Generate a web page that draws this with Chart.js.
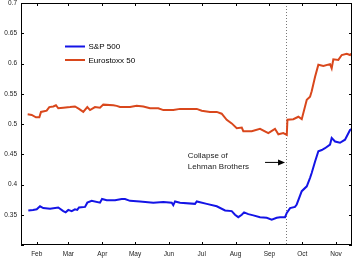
<!DOCTYPE html>
<html>
<head>
<meta charset="utf-8">
<script src="https://cdn.jsdelivr.net/npm/chart.js@4.4.0/dist/chart.umd.min.js"></script>
<style>
    html, body { margin: 0; padding: 0; background: #fff; }
    canvas { display: block; }
</style>
</head>
<body>
<canvas id="chart" width="353" height="262"></canvas>
<script>
// days are day-of-year 2008 (Jan 1 = 0)
const spxDays = [23.3, 27.6, 31, 34, 37, 43.2, 50.7, 55.3, 57.5, 59.9, 63, 66, 68.1, 69.7, 75.2, 77.3, 81.3, 88.9, 90.8, 95.1,
    102.7, 108.8, 111.8, 116.4, 125.5, 137.7, 146.9, 154.6, 156, 157.6, 162.2, 175.9, 177.5, 186.6, 195.8, 203.4, 209.5, 212.5,
    215.5, 218.7, 220.8, 224.7, 229.3, 235.4, 241.5, 246.1, 250.7, 253.7, 258.3, 259.9, 262.9, 267.4, 269, 273.6, 278.2, 281.2,
    282.7, 285.8, 288.8, 291.9, 294.9, 299.5, 301, 304.1, 308.6, 313.2, 317.8, 319.6];
const spxValues = [0.357, 0.358, 0.359, 0.364, 0.361, 0.360, 0.362, 0.356, 0.354, 0.358, 0.356, 0.359, 0.358, 0.362, 0.363, 0.370,
    0.373, 0.370, 0.376, 0.374, 0.374, 0.376, 0.376, 0.373, 0.372, 0.370, 0.371, 0.370, 0.366, 0.372, 0.370, 0.368, 0.372, 0.368,
    0.364, 0.357, 0.356, 0.350, 0.346, 0.350, 0.354, 0.351, 0.349, 0.346, 0.345, 0.342, 0.345, 0.346, 0.346, 0.353, 0.361, 0.363,
    0.367, 0.389, 0.397, 0.411, 0.419, 0.438, 0.455, 0.457, 0.460, 0.466, 0.477, 0.471, 0.469, 0.474, 0.490, 0.492];

const sxDays = [22.7, 26.4, 30.3, 33.4, 34.9, 40.1, 42.5, 46.2, 48.6, 50.7, 55.3, 61.5, 66, 69.7, 73.6, 77.3, 79.8, 84.3, 88.9, 91.9,
    101.1, 104.2, 107.2, 116.4, 122.5, 128.6, 134.7, 142.3, 146.9, 156, 162.2, 177.5, 182, 189.6, 195.8, 200.3, 204.9, 209.5,
    214.1, 218.7, 220.1, 227.8, 235.4, 243, 249.1, 252.2, 256.7, 259.9, 260.5, 265.9, 270.5, 273.6, 278.2, 281.2, 282.7, 285.8,
    288.8, 293.4, 299.5, 301, 302.5, 307.1, 310.2, 314.8, 317.8, 319.6];
const sxValues = [0.516, 0.515, 0.511, 0.511, 0.520, 0.522, 0.528, 0.529, 0.531, 0.526, 0.527, 0.528, 0.529, 0.525, 0.520, 0.528,
    0.523, 0.528, 0.527, 0.532, 0.531, 0.530, 0.528, 0.528, 0.530, 0.529, 0.526, 0.526, 0.523, 0.523, 0.525, 0.525, 0.522, 0.520,
    0.520, 0.517, 0.507, 0.501, 0.493, 0.494, 0.488, 0.488, 0.492, 0.485, 0.492, 0.483, 0.485, 0.482, 0.507, 0.508, 0.512, 0.508,
    0.540, 0.545, 0.554, 0.578, 0.598, 0.596, 0.599, 0.592, 0.607, 0.606, 0.614, 0.616, 0.614, 0.617];

const monthDays = [31, 60, 91, 121, 152, 182, 213, 244, 274, 305];
const monthLabels = ['Feb', 'Mar', 'Apr', 'May', 'Jun', 'Jul', 'Aug', 'Sep', 'Oct', 'Nov'];

const lehmanDay = 259.5;
const noteLines = ['Collapse of', 'Lehman Brothers'];

const FONT = '"Liberation Sans", Arial, sans-serif';

function toPoints(days, values) {
    return days.map((d, i) => ({x: d, y: values[i]}));
}

// matlab style frame, inward ticks, dotted marker, legend and the note
const frame = {
    id: 'frame',
    beforeDatasetsDraw(chart) {
        const ctx = chart.ctx;
        const a = chart.chartArea;
        const x = chart.scales.x.getPixelForValue(lehmanDay);
        ctx.save();
        ctx.strokeStyle = '#777';
        ctx.lineWidth = 1;
        ctx.setLineDash([1, 2]);
        ctx.beginPath();
        ctx.moveTo(Math.round(x) + 0.5, a.top);
        ctx.lineTo(Math.round(x) + 0.5, a.bottom);
        ctx.stroke();
        ctx.restore();
    },
    afterDraw(chart) {
        const ctx = chart.ctx;
        const a = chart.chartArea;
        const xs = chart.scales.x;
        const ys = chart.scales.y;
        const len = 3;

        ctx.save();
        ctx.strokeStyle = '#000';
        ctx.lineWidth = 1;
        ctx.strokeRect(a.left + 0.5, a.top + 0.5, a.right - a.left - 1, a.bottom - a.top - 1);

        ctx.beginPath();
        monthDays.forEach(function (d) {
            const px = Math.round(xs.getPixelForValue(d)) + 0.5;
            ctx.moveTo(px, a.bottom);
            ctx.lineTo(px, a.bottom - len);
            ctx.moveTo(px, a.top);
            ctx.lineTo(px, a.top + len);
        });
        ys.ticks.forEach(function (t) {
            const py = Math.round(ys.getPixelForValue(t.value)) + 0.5;
            ctx.moveTo(a.left, py);
            ctx.lineTo(a.left + len, py);
            ctx.moveTo(a.right, py);
            ctx.lineTo(a.right - len, py);
        });
        ctx.stroke();

        // legend
        ctx.font = '8px ' + FONT;
        ctx.textBaseline = 'middle';
        chart.data.datasets.forEach(function (ds, i) {
            const ly = 46.5 + i * 13.5;
            ctx.strokeStyle = ds.borderColor;
            ctx.lineWidth = 2;
            ctx.beginPath();
            ctx.moveTo(65, ly);
            ctx.lineTo(85, ly);
            ctx.stroke();
            ctx.fillStyle = '#000';
            ctx.fillText(ds.label, 88.5, ly + 0.5);
        });

        // note with arrow
        const tx = xs.getPixelForValue(169.2);
        ctx.fillStyle = '#222';
        noteLines.forEach(function (line, i) {
            ctx.fillText(line, tx, ys.getPixelForValue(0.4476) + i * 11.3);
        });
        const ay = ys.getPixelForValue(0.4365);
        const ax0 = xs.getPixelForValue(240);
        const ax1 = xs.getPixelForValue(258.3);
        ctx.strokeStyle = '#000';
        ctx.lineWidth = 1;
        ctx.beginPath();
        ctx.moveTo(ax0, ay);
        ctx.lineTo(ax1 - 4, ay);
        ctx.stroke();
        ctx.fillStyle = '#000';
        ctx.beginPath();
        ctx.moveTo(ax1, ay);
        ctx.lineTo(ax1 - 7, ay - 3);
        ctx.lineTo(ax1 - 7, ay + 3);
        ctx.closePath();
        ctx.fill();
        ctx.restore();
    }
};

const ctx = document.getElementById('chart').getContext('2d');

const chart = new Chart(ctx, {
    type: 'line',
    data: {
        datasets: [{
            label: 'S&P 500',
            data: toPoints(spxDays, spxValues),
            borderColor: '#1414e6',
            borderWidth: 2,
            pointRadius: 0,
            tension: 0
        }, {
            label: 'Eurostoxx 50',
            data: toPoints(sxDays, sxValues),
            borderColor: '#d9471c',
            borderWidth: 2,
            pointRadius: 0,
            tension: 0
        }]
    },
    options: {
        responsive: false,
        animation: false,
        layout: {
            padding: {top: 3, right: 1, left: 0, bottom: 0}
        },
        plugins: {
            legend: {display: false},
            tooltip: {enabled: false}
        },
        scales: {
            x: {
                type: 'linear',
                min: 16.6,
                max: 319.6,
                grid: {display: false, drawTicks: false},
                border: {display: false},
                afterBuildTicks: function (scale) {
                    scale.ticks = monthDays.map(d => ({value: d}));
                },
                afterFit: function (scale) {
                    scale.height = 17;
                    scale.paddingLeft = 0;
                    scale.paddingRight = 0;
                },
                ticks: {
                    autoSkip: false,
                    maxRotation: 0,
                    padding: 5,
                    color: '#222',
                    font: {family: FONT, size: 6.5},
                    callback: function (value) {
                        const i = monthDays.indexOf(value);
                        return i >= 0 ? monthLabels[i] : '';
                    }
                }
            },
            y: {
                min: 0.3,
                max: 0.7,
                grid: {display: false, drawTicks: false},
                border: {display: false},
                afterFit: function (scale) {
                    scale.width = 21;
                    scale.paddingTop = 0;
                    scale.paddingBottom = 0;
                },
                ticks: {
                    stepSize: 0.05,
                    padding: 4,
                    color: '#222',
                    font: {family: FONT, size: 6.5},
                    callback: function (value) {
                        if (value < 0.31) {
                            return '';
                        }
                        return String(Number(value.toFixed(2)));
                    }
                }
            }
        }
    },
    plugins: [frame]
});
</script>
</body>
</html>
